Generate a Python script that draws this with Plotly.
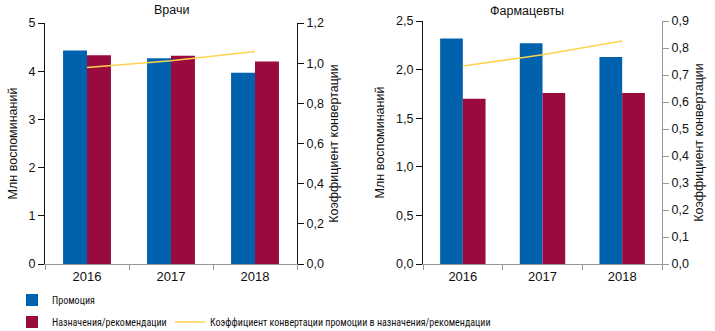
import plotly.graph_objects as go

years = ["2016", "2017", "2018"]
doc_promo = [4.43, 4.27, 3.97]
doc_presc = [4.33, 4.32, 4.20]
doc_ratio = [0.978, 1.012, 1.058]
ph_promo = [2.32, 2.27, 2.13]
ph_presc = [1.70, 1.76, 1.76]
ph_ratio = [0.733, 0.775, 0.826]

names = ["Промоция", "Назначения/рекомендации",
         "Коэффициент конвертации промоции в назначения/рекомендации"]
titles = ["Врачи", "Фармацевты"]
left_title = "Млн воспоминаний"
right_title = "Коэффициент конвертации"

BLUE = "#0061AD"
RED = "#990A3E"
YEL = "#FFD34E"
REG = "Liberation Sans, Arial, sans-serif"
NARROW = "Roboto Condensed, DejaVu Sans Condensed, sans-serif"

fig = go.Figure()
# left panel
fig.add_trace(go.Bar(x=years, y=doc_promo, name=names[0], marker=dict(color=BLUE, line=dict(width=0)),
                     xaxis="x", yaxis="y", legend="legend"))
fig.add_trace(go.Bar(x=years, y=doc_presc, name=names[1], marker=dict(color=RED, line=dict(width=0)),
                     xaxis="x", yaxis="y", legend="legend2"))
fig.add_trace(go.Scatter(x=years, y=doc_ratio, name=names[2], mode="lines",
                         line=dict(color=YEL, width=1.5), xaxis="x", yaxis="y2", legend="legend3"))
# right panel
fig.add_trace(go.Bar(x=years, y=ph_promo, name=names[0], marker=dict(color=BLUE, line=dict(width=0)),
                     xaxis="x2", yaxis="y3", showlegend=False))
fig.add_trace(go.Bar(x=years, y=ph_presc, name=names[1], marker=dict(color=RED, line=dict(width=0)),
                     xaxis="x2", yaxis="y3", showlegend=False))
fig.add_trace(go.Scatter(x=years, y=ph_ratio, name=names[2], mode="lines",
                         line=dict(color=YEL, width=1.5), xaxis="x2", yaxis="y4", showlegend=False))

W, H = 715, 331
def px(v): return v / W
def py(v): return 1 - v / H

tickfont = dict(family=REG, size=13, color="#111")
xcommon = dict(type="category", showgrid=False, zeroline=False, showline=True, linecolor="#999",
               linewidth=1, ticks="outside", tickcolor="#999", ticklen=5, tickson="boundaries",
               tickfont=tickfont)
ycommon = dict(showgrid=False, zeroline=False, showline=True, linewidth=1, ticks="outside",
               ticklen=6, tickfont=dict(family=REG, size=12.5, color="#111"))
legfont = dict(family=NARROW, size=10, color="#111")

fig.update_layout(
    width=W, height=H, margin=dict(l=0, r=0, t=0, b=0, autoexpand=False),
    paper_bgcolor="white", plot_bgcolor="white",
    separators=", ", barmode="group", bargap=0.43, bargroupgap=0,
    showlegend=True,
    xaxis=dict(domain=[px(45), px(297)], anchor="y", **xcommon),
    yaxis=dict(domain=[py(264), py(23)], range=[0, 5], dtick=1, tickformat=".0f",
               linecolor="#111", tickcolor="#111", anchor="x",
               title=dict(text=left_title, font=dict(family=REG, size=12.5, color="#111"), standoff=8),
               **ycommon),
    yaxis2=dict(overlaying="y", side="right", anchor="x", range=[0, 1.2], dtick=0.2, tickformat=".1f",
                linecolor="#111", tickcolor="#111",
                title=dict(text=right_title, font=dict(family=REG, size=12.5, color="#111"), standoff=6),
                **ycommon),
    xaxis2=dict(domain=[px(423), px(662)], anchor="y3", **xcommon),
    yaxis3=dict(domain=[py(264), py(21)], range=[0, 2.5], dtick=0.5, tickformat=".1f",
                linecolor="#111", tickcolor="#111", anchor="x2",
                title=dict(text=left_title, font=dict(family=REG, size=12.5, color="#111"), standoff=8),
                **ycommon),
    yaxis4=dict(overlaying="y3", side="right", anchor="x2", range=[0, 0.9], dtick=0.1, tickformat=".1f",
                linecolor="#999", tickcolor="#999",
                title=dict(text=right_title, font=dict(family=REG, size=12.5, color="#111"), standoff=6),
                **ycommon),
    legend=dict(x=px(12), y=py(300), xanchor="left", yanchor="middle", orientation="h",
                font=legfont, bgcolor="rgba(0,0,0,0)", itemwidth=30),
    legend2=dict(x=px(12), y=py(322), xanchor="left", yanchor="middle", orientation="h",
                 font=legfont, bgcolor="rgba(0,0,0,0)", itemwidth=30),
    legend3=dict(x=px(170), y=py(322), xanchor="left", yanchor="middle", orientation="h",
                 font=legfont, bgcolor="rgba(0,0,0,0)", itemwidth=30),
    annotations=[
        dict(text=titles[0], x=px(171), y=py(10), xref="paper", yref="paper", showarrow=False,
             font=dict(family=REG, size=12.5, color="#111"), xanchor="center", yanchor="middle"),
        dict(text=titles[1], x=px(527), y=py(11), xref="paper", yref="paper", showarrow=False,
             font=dict(family=REG, size=12.5, color="#111"), xanchor="center", yanchor="middle"),
    ],
)

fig.write_html("out.html")
